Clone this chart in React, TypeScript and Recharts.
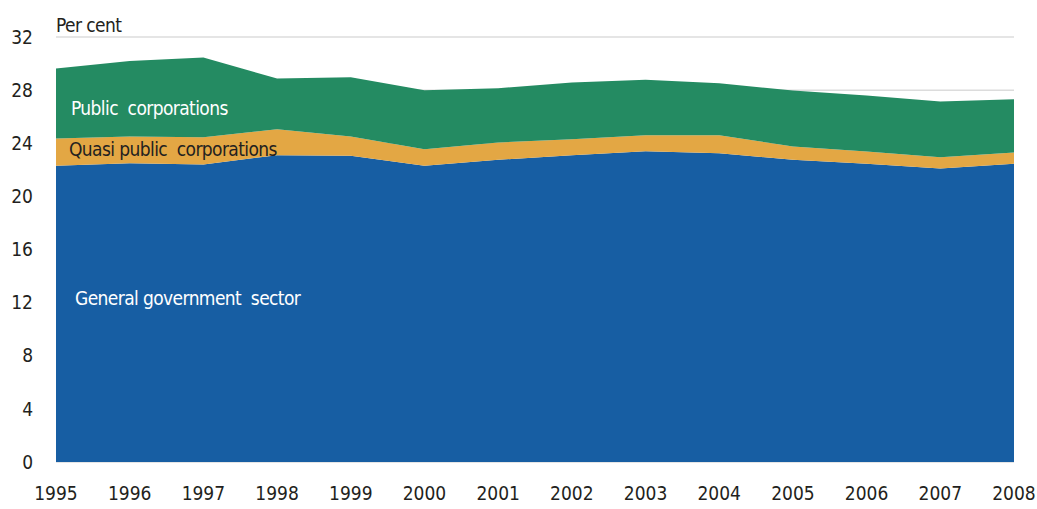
import React from 'react';
import { AreaChart, Area, XAxis, YAxis, CartesianGrid } from 'recharts';

const years = ['1995', '1996', '1997', '1998', '1999', '2000', '2001', '2002', '2003', '2004', '2005', '2006', '2007', '2008'];
const generalGov = [22.3, 22.5, 22.4, 23.1, 23.05, 22.3, 22.75, 23.1, 23.4, 23.25, 22.75, 22.45, 22.1, 22.45];
const quasiPublic = [2.06, 2.0, 2.06, 1.96, 1.45, 1.24, 1.31, 1.2, 1.21, 1.36, 1.0, 0.93, 0.85, 0.85];
const publicCorp = [5.27, 5.7, 6.0, 3.81, 4.47, 4.46, 4.09, 4.27, 4.17, 3.91, 4.22, 4.21, 4.19, 4.02];
const yTicks = [0, 4, 8, 12, 16, 20, 24, 28, 32];

const data = years.map((year, i) => ({
  year,
  general: generalGov[i],
  quasi: quasiPublic[i],
  pub: publicCorp[i],
}));

const FONT = "'DejaVu Sans', sans-serif";

const labelStyle: React.CSSProperties = {
  position: 'absolute',
  fontFamily: FONT,
  fontStretch: 'condensed',
  fontSize: 19,
  letterSpacing: -0.6,
  whiteSpace: 'pre',
  lineHeight: '20px',
};

const tickStyle = { fill: '#231f20', fontSize: 19, fontFamily: FONT, fontStretch: 'condensed' };

export default function App() {
  return (
    <div style={{ position: 'absolute', left: 0, top: 0, width: 1037, height: 509, background: '#fff' }}>
      <AreaChart
        width={1037}
        height={509}
        data={data}
        margin={{ top: 37, right: 23, bottom: 17, left: 0 }}
      >
        <CartesianGrid vertical={false} stroke="#dcdcdc" strokeWidth={1.5} />
        <XAxis
          dataKey="year"
          height={30}
          axisLine={false}
          tickLine={false}
          tickSize={0}
          tickMargin={25}
          interval={0}
          tick={tickStyle}
        />
        <YAxis
          width={56}
          domain={[0, 32]}
          ticks={yTicks}
          axisLine={false}
          tickLine={false}
          tickSize={0}
          tickMargin={23}
          tick={tickStyle}
        />
        <Area type="linear" dataKey="general" stackId="a" fill="#175ea3" stroke="none" fillOpacity={1} isAnimationActive={false} />
        <Area type="linear" dataKey="quasi" stackId="a" fill="#e3a744" stroke="none" fillOpacity={1} isAnimationActive={false} />
        <Area type="linear" dataKey="pub" stackId="a" fill="#248b62" stroke="none" fillOpacity={1} isAnimationActive={false} />
      </AreaChart>
      <div style={{ ...labelStyle, left: 56, top: 15, color: '#231f20' }}>Per cent</div>
      <div style={{ ...labelStyle, left: 71, top: 98, color: '#ffffff' }}>Public  corporations</div>
      <div style={{ ...labelStyle, left: 69, top: 139, color: '#231f20' }}>Quasi public  corporations</div>
      <div style={{ ...labelStyle, left: 75, top: 288, color: '#ffffff' }}>General government  sector</div>
    </div>
  );
}
